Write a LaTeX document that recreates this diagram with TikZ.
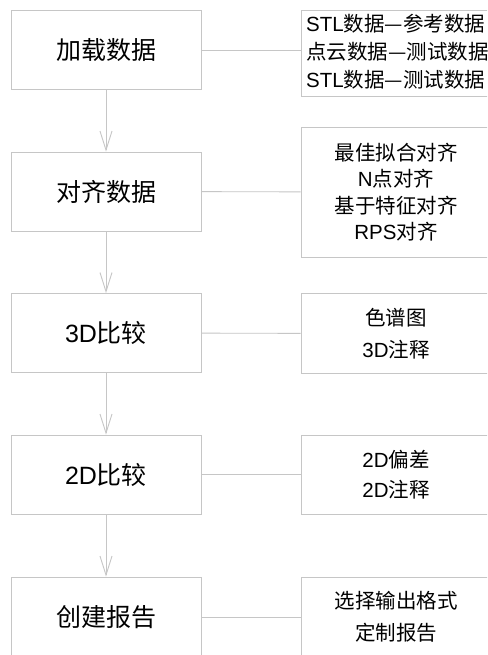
\documentclass[tikz,border=0pt]{standalone}
\usepackage{fontspec}
\setmainfont{Liberation Sans}
\newfontfamily\cjk{Noto Sans CJK SC}
\usetikzlibrary{arrows.meta}
\definecolor{edge}{RGB}{198,198,198}
\begin{document}
\begin{tikzpicture}[x=1pt,y=-1pt,
  mainbox/.style={draw=edge,line width=0.9pt,minimum width=190pt,minimum height=79pt,inner sep=0pt,font=\fontsize{25}{30}\selectfont},
  sidebox/.style={draw=edge,line width=0.9pt,minimum width=190pt,inner sep=0pt,align=center,font=\fontsize{20.5}{28}\selectfont},
  sidetext/.style={inner sep=0pt,align=left,font=\fontsize{20.5}{28}\selectfont},
  link/.style={draw=edge,line width=0.9pt},
  flow/.style={draw=edge,line width=0.9pt,-{Straight Barb[length=19pt,width=12pt]}}]
\useasboundingbox (0,0) rectangle (487,655);
\fill[white] (0,0) rectangle (487,655);
\clip (0,0) rectangle (487,655);

\node[mainbox] (m1) at (106,50) {\cjk 加载数据};
\node[mainbox] (m2) at (106,191.5) {\cjk 对齐数据};
\node[mainbox] (m3) at (106,333) {3D{\cjk 比较}};
\node[mainbox] (m4) at (106,474.5) {2D{\cjk 比较}};
\node[mainbox,minimum height=80pt] (m5) at (106,617) {\cjk 创建报告};

\node[sidebox,minimum height=86pt] (s1) at (396,53.5) {};
\node[sidetext,anchor=west] (t1) at (306,52)
  {STL{\cjk 数据—参考数据}\\{\cjk 点云数据—测试数据}\\STL{\cjk 数据—测试数据}};
\node[sidebox,minimum height=130pt,font=\fontsize{20.5}{26.5}\selectfont] (s2) at (396,192)
  {{\cjk 最佳拟合对齐}\\N{\cjk 点对齐}\\{\cjk 基于特征对齐}\\RPS{\cjk 对齐}};
\node[sidebox,minimum height=80pt,font=\fontsize{20.5}{32}\selectfont] (s3) at (396,333.5)
  {{\cjk 色谱图}\\3D{\cjk 注释}};
\node[sidebox,minimum height=79pt,font=\fontsize{20.5}{30}\selectfont] (s4) at (396,474.5)
  {2D{\cjk 偏差}\\2D{\cjk 注释}};
\node[sidebox,minimum height=80pt,font=\fontsize{20.5}{32}\selectfont] (s5) at (396,617)
  {{\cjk 选择输出格式}\\{\cjk 定制报告}};

\draw[flow] (m1) -- (m2);
\draw[flow] (m2) -- (m3);
\draw[flow] (m3) -- (m4);
\draw[flow] (m4) -- (m5);

\draw[link] (m1.east) -- (m1.east -| s1.west);
\draw[link] (m2) -- (s2);
\draw[link] (m3) -- (s3);
\draw[link] (m4) -- (s4);
\draw[link] (m5) -- (s5);
\end{tikzpicture}
\end{document}
